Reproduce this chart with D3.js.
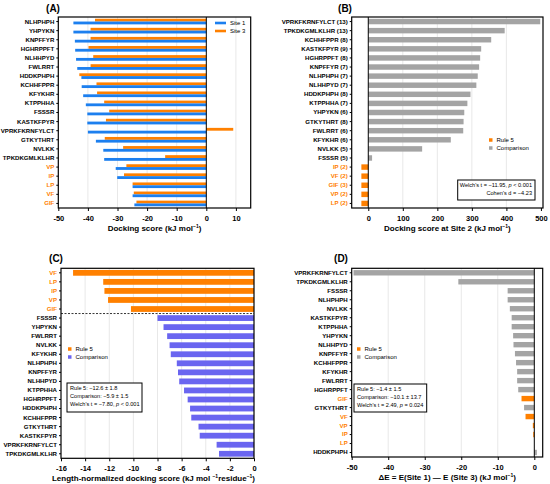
<!DOCTYPE html>
<html>
<head>
<meta charset="utf-8">
<script src="https://cdn.jsdelivr.net/npm/d3@7"></script>
<style>
body { margin: 0; background: #fff; }
svg { font-family: "Liberation Sans", Arial, sans-serif; }
.tick text { font-weight: bold; }
</style>
</head>
<body>
<script>
var W = 550, H = 484;
var orange = "#FF8000", blue = "#1C7FEF", purple = "#6A65F0", gray = "#A4A4A4";
var rule5 = ["VP", "IP", "LP", "VF", "GIF"];

// panel A data
var pepA = ["NLHPHPH","YHPYKN","KNPFFYR","HGHRPPFT","NLHHPYD","FWLRRT","HDDKPHPH","KCHHFPPR","KFYKHR",
            "KTPPHHA","FSSSR","KASTKFPYR","VPRKFKRNFYLCT","GTKYTHRT","NVLKK","TPKDKGMLKLHR","VP","IP","LP","VF","GIF"];
var site1 = [-44.9,-44.9,-44.4,-44.3,-44.0,-43.6,-42.2,-42.1,-41.6,-40.7,-40.2,-40.2,-40.0,-37.3,-34.8,-34.5,-30.6,-30.1,-24.9,-24.9,-24.3];
var site3 = [-37.6,-39.1,-39.1,-39.8,-38.2,-39.1,-42.9,-37.1,-36.9,-34.5,-32.8,-33.9,9.1,-34.3,-28.1,-13.9,-27.0,-27.8,-24.9,-24.5,-23.6];

// panel B data
var pepB = ["VPRKFKRNFYLCT","TPKDKGMLKLHR","KCHHFPPR","KASTKFPYR","HGHRPPFT","KNPFFYR","NLHPHPH","NLHHPYD","HDDKPHPH",
            "KTPPHHA","YHPYKN","GTKYTHRT","FWLRRT","KFYKHR","NVLKK","FSSSR","IP","VF","GIF","VP","LP"];
var lenB = [13,13,8,9,8,7,7,7,8,7,6,8,6,6,5,5,2,2,3,2,2];
var site2 = [498,395,356,327,324,321,317,313,296,287,278,276,275,239,156,11,-20,-20,-20,-20,-20];

// panel C data
var pepC = ["VF","LP","IP","VP","GIF","FSSSR","YHPYKN","FWLRRT","NVLKK","KFYKHR","NLHPHPH","KNPFFYR","NLHHPYD",
            "KTPPHHA","HGHRPPFT","HDDKPHPH","KCHHFPPR","GTKYTHRT","KASTKFPYR","VPRKFKRNFYLCT","TPKDKGMLKLHR"];
var normC = [-15.0,-12.5,-12.4,-12.1,-10.2,-8.0,-7.5,-7.2,-7.0,-6.9,-6.4,-6.3,-6.2,-5.8,-5.5,-5.3,-5.2,-4.6,-4.5,-3.1,-2.9];

// panel D data
var pepD = ["VPRKFKRNFYLCT","TPKDKGMLKLHR","FSSSR","NLHPHPH","NVLKK","KASTKFPYR","KTPPHHA","YHPYKN","NLHHPYD","KNPFFYR",
            "KCHHFPPR","KFYKHR","FWLRRT","HGHRPPFT","GIF","GTKYTHRT","VF","VP","IP","LP","HDDKPHPH"];
var deltaD = [-49.5,-20.8,-7.3,-7.3,-6.7,-6.2,-6.2,-5.8,-5.7,-5.3,-5.0,-4.7,-4.7,-4.4,-3.5,-2.8,-2.4,-0.4,-0.3,0,0.7];

var svg = d3.select("body").append("svg").attr("width", W).attr("height", H);

function isRule(p) { return rule5.indexOf(p.split(" ")[0]) >= 0; }

// common frame: axes, grid, title
function panel(o) {
  var g = svg.append("g");
  var x = d3.scaleLinear().domain(o.xdom).range([o.x0, o.x1]);
  var y = d3.scaleBand().domain(o.cats).range([o.y0, o.y1]).paddingInner(o.pad).paddingOuter(o.pad / 2);

  g.append("g").selectAll("line").data(o.grid).enter().append("line")
    .attr("x1", x).attr("x2", x).attr("y1", o.y0).attr("y2", o.y1)
    .attr("stroke", "#e2e2e2").attr("stroke-width", 0.8);

  var xa = g.append("g").attr("transform", "translate(0," + o.y1 + ")")
    .call(d3.axisBottom(x).tickValues(o.ticks).tickSize(3).tickFormat(d3.format("d")));
  xa.select(".domain").remove();
  xa.selectAll("text").attr("font-size", 7.5).attr("fill", "#000").attr("dy", "0.9em")
    .text(function(d){ return d < 0 ? "-" + (-d) : d; });
  xa.selectAll("line").attr("stroke-width", 1);

  var ya = g.append("g").attr("transform", "translate(" + o.x0 + ",0)")
    .call(d3.axisLeft(y).tickSize(2).tickPadding(2));
  ya.select(".domain").remove();
  ya.selectAll("text").attr("font-size", 6.1)
    .attr("fill", function(d){ return isRule(d) ? orange : "#000"; });

  g.append("text").attr("x", o.tx).attr("y", o.ty).attr("font-size", 10).attr("font-weight", "bold")
    .attr("text-anchor", "middle").text(o.title);

  var t = g.append("text").attr("x", (o.x0 + o.x1) / 2 + (o.lx || 0)).attr("y", o.y1 + 23)
    .attr("font-size", 8).attr("font-weight", "bold").attr("text-anchor", "middle");
  o.xlab.forEach(function(s) {
    if (s.sup) t.append("tspan").attr("font-size", 5).attr("dy", -3).text(s.sup);
    else t.append("tspan").attr("dy", s.down ? 3 : 0).text(s.t);
  });
  g.x = x; g.y = y; g.o = o;
  return g;
}

function finish(g, zero) {
  var o = g.o, x = g.x;
  if (zero) g.append("line").attr("x1", x(0)).attr("x2", x(0)).attr("y1", o.y0).attr("y2", o.y1)
    .attr("stroke", "#000").attr("stroke-width", 1);
  g.append("rect").attr("x", o.x0).attr("y", o.y0).attr("width", o.x1 - o.x0).attr("height", o.y1 - o.y0)
    .attr("fill", "none").attr("stroke", "#000").attr("stroke-width", 1.2);
}

function legend(g, lx, ly, items, swW, swH) {
  var l = g.append("g").attr("transform", "translate(" + lx + "," + ly + ")");
  items.forEach(function(it, i) {
    l.append("rect").attr("x", 0).attr("y", i * 8 - swH / 2).attr("width", swW).attr("height", swH).attr("fill", it[1]);
    l.append("text").attr("x", swW + 4).attr("y", i * 8).attr("dy", "0.35em").attr("font-size", 6).text(it[0]);
  });
}

function note(g, bx, by, bw, bh, lines, anchor) {
  g.append("rect").attr("x", bx).attr("y", by).attr("width", bw).attr("height", bh)
    .attr("fill", "#fff").attr("stroke", "#000").attr("stroke-width", 1);
  lines.forEach(function(ln, i) {
    var t = g.append("text").attr("font-size", 5.6).attr("y", by + 6.8 + i * 8)
      .attr("x", anchor === "end" ? bx + bw - 3 : bx + 3).attr("text-anchor", anchor || "start");
    ln.forEach(function(s) { t.append("tspan").attr("font-style", s.i ? "italic" : null).text(s.t); });
  });
}

// (A)
var gA = panel({ cats: pepA, xdom: [-50, 15], x0: 58.3, x1: 250.7, y0: 17, y1: 208, pad: 0.38,
  ticks: [-50,-40,-30,-20,-10,0,10], grid: [-40,-30,-20,-10,10], title: "(A)", tx: 53, ty: 12,
  xlab: [{t: "Docking score (kJ mol"}, {sup: "\u22121"}, {t: ")", down: 1}] });
var sub = d3.scaleBand().domain(["s3", "s1"]).range([0, gA.y.bandwidth()]);
pepA.forEach(function(p, i) {
  [["s3", site3[i], orange], ["s1", site1[i], blue]].forEach(function(s) {
    gA.append("rect").attr("x", gA.x(Math.min(0, s[1]))).attr("y", gA.y(p) + sub(s[0]))
      .attr("width", Math.abs(gA.x(s[1]) - gA.x(0))).attr("height", sub.bandwidth()).attr("fill", s[2]);
  });
});
finish(gA, true);
legend(gA, 215, 23, [["Site 1", blue], ["Site 3", orange]], 11, 2.6);

// (B)
var labB = pepB.map(function(p, i){ return p + " (" + lenB[i] + ")"; });
var gB = panel({ cats: labB, xdom: [-48, 506], x0: 351.7, x1: 543, y0: 17, y1: 208, pad: 0.4,
  ticks: [0,100,200,300,400,500], grid: [100,200,300,400], title: "(B)", tx: 345, ty: 12,
  xlab: [{t: "Docking score at Site 2 (kJ mol"}, {sup: "\u22121"}, {t: ")", down: 1}] });
gB.selectAll(".barB").data(site2).enter().append("rect")
  .attr("x", function(d){ return gB.x(Math.min(0, d)); })
  .attr("y", function(d, i){ return gB.y(labB[i]); })
  .attr("width", function(d){ return Math.abs(gB.x(d) - gB.x(0)); })
  .attr("height", gB.y.bandwidth())
  .attr("fill", function(d, i){ return isRule(labB[i]) ? orange : gray; });
finish(gB, true);
legend(gB, 489, 140, [["Rule 5", orange], ["Comparison", gray]], 3.5, 3.5);
note(gB, 457.7, 180, 77.3, 20, [[{t: "Welch's t = \u221211.95, "}, {t: "p", i: 1}, {t: " < 0.001"}], [{t: "Cohen's d = \u22124.23"}]], "end");

// (C)
var gC = panel({ cats: pepC, xdom: [-16, 0], x0: 61, x1: 254, y0: 268.3, y1: 458.3, pad: 0.36,
  ticks: d3.range(-16, 1, 2), grid: d3.range(-14, 0, 2), title: "(C)", tx: 56, ty: 262, lx: -4,
  xlab: [{t: "Length-normalized docking score (kJ mol "}, {sup: "\u22121"}, {t: "residue", down: 1}, {sup: "\u22121"}, {t: ")", down: 1}] });
gC.selectAll(".barC").data(normC).enter().append("rect")
  .attr("x", function(d){ return gC.x(d); })
  .attr("y", function(d, i){ return gC.y(pepC[i]); })
  .attr("width", function(d){ return gC.x(0) - gC.x(d); })
  .attr("height", gC.y.bandwidth())
  .attr("fill", function(d, i){ return isRule(pepC[i]) ? orange : purple; });
var yCut = gC.y(pepC[5]) - gC.y.step() * gC.y.paddingInner() / 2;
gC.append("line").attr("x1", gC.o.x0).attr("x2", gC.o.x1).attr("y1", yCut).attr("y2", yCut)
  .attr("stroke", "#000").attr("stroke-width", 0.8).attr("stroke-dasharray", "2,1.5");
finish(gC, false);
legend(gC, 68, 349, [["Rule 5", orange], ["Comparison", purple]], 3.5, 3.5);
note(gC, 67, 383, 75, 29, [[{t: "Rule 5:  \u221212.6 \u00b1 1.8"}], [{t: "Comparison: \u22125.9 \u00b1 1.5"}],
  [{t: "Welch's t = \u22127.80, "}, {t: "p", i: 1}, {t: " < 0.001"}]]);

// (D)
var gD = panel({ cats: pepD, xdom: [-50, 2.3], x0: 351.7, x1: 542.7, y0: 268.3, y1: 457, pad: 0.4,
  ticks: [-50,-40,-30,-20,-10,0], grid: [-40,-30,-20,-10], title: "(D)", tx: 341, ty: 262,
  xlab: [{t: "\u0394E = E(Site 1) \u2014 E (Site 3) (kJ mol"}, {sup: "\u22121"}, {t: ")", down: 1}] });
gD.selectAll(".barD").data(deltaD).enter().append("rect")
  .attr("x", function(d){ return gD.x(Math.min(0, d)); })
  .attr("y", function(d, i){ return gD.y(pepD[i]); })
  .attr("width", function(d){ return Math.abs(gD.x(d) - gD.x(0)); })
  .attr("height", gD.y.bandwidth())
  .attr("fill", function(d, i){ return isRule(pepD[i]) ? orange : gray; });
finish(gD, true);
legend(gD, 357, 349, [["Rule 5", orange], ["Comparison", gray]], 3.5, 3.5);
note(gD, 354, 384, 72.7, 28, [[{t: "Rule 5:  \u22121.4 \u00b1 1.5"}], [{t: "Comparison: \u221210.1 \u00b1 13.7"}],
  [{t: "Welch's t = 2.49, "}, {t: "p", i: 1}, {t: " = 0.024"}]]);
</script>
</body>
</html>
